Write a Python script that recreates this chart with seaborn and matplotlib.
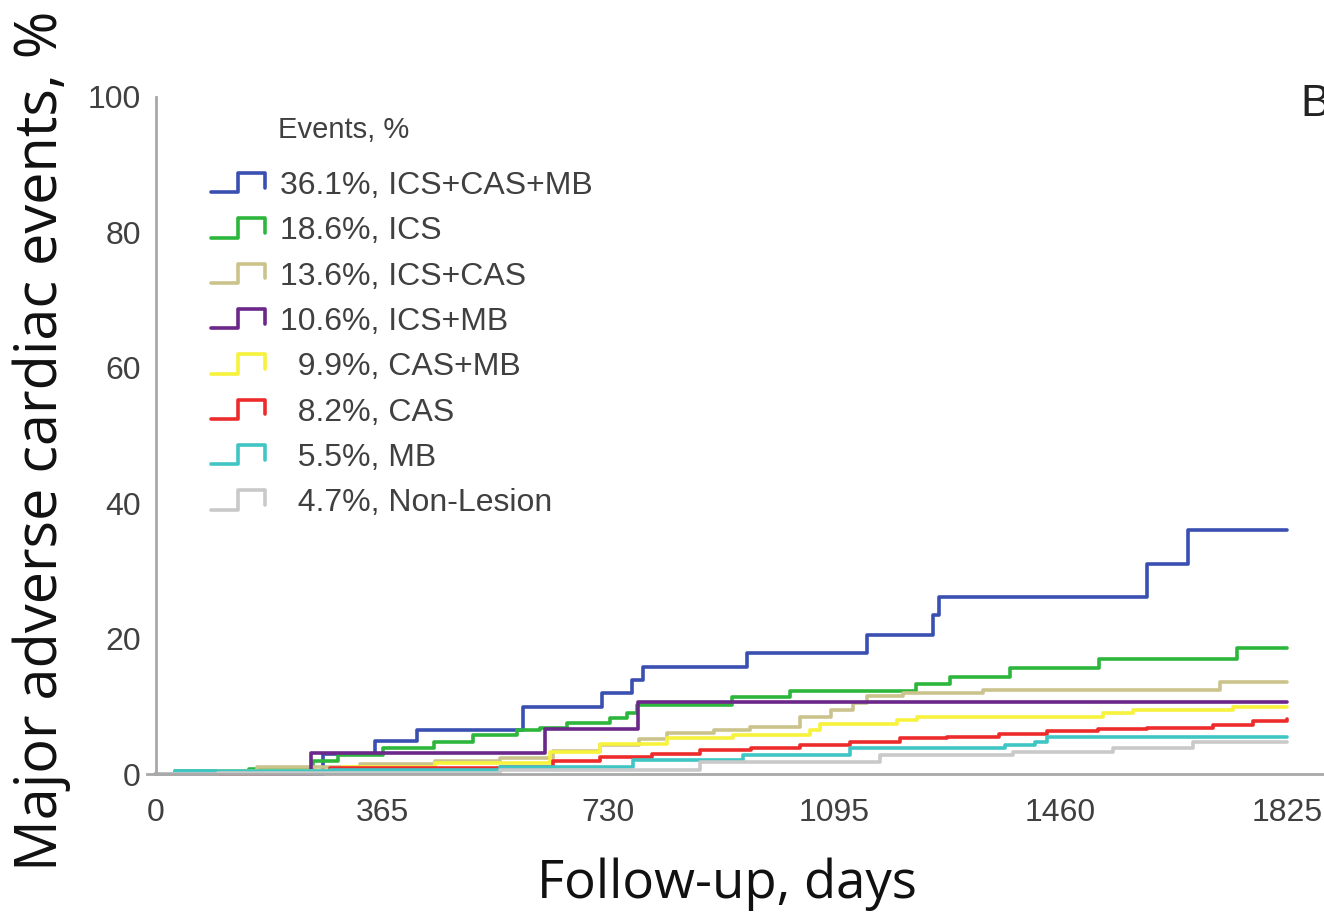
import pandas as pd
import matplotlib
matplotlib.use("Agg")
import matplotlib.pyplot as plt
import seaborn as sns
from matplotlib.lines import Line2D
from matplotlib.legend_handler import HandlerBase

# cumulative event curves (days, %)
blue_days = [0, 270, 353, 421, 592, 720, 768, 786, 953, 1147, 1254, 1264, 1599, 1665, 1825]
blue_pct = [0, 3.0, 4.9, 6.5, 9.9, 12.0, 13.9, 15.8, 17.9, 20.5, 23.5, 26.1, 31.0, 36.1, 36.1]

green_days = [0, 30, 150, 253, 293, 367, 448, 512, 582, 620, 663, 733, 760, 776, 929, 1023, 1226, 1281, 1378, 1522, 1744, 1825]
green_pct = [0, 0.4, 0.8, 2.0, 2.8, 3.8, 4.8, 5.8, 6.5, 6.8, 7.6, 8.3, 9.0, 10.2, 11.4, 12.3, 13.3, 14.4, 15.7, 17.0, 18.6, 18.6]

khaki_days = [0, 80, 163, 330, 450, 555, 640, 716, 780, 825, 900, 958, 1039, 1090, 1125, 1147, 1205, 1334, 1717, 1825]
khaki_pct = [0, 0.3, 1.0, 1.5, 2.0, 2.4, 3.4, 4.3, 5.2, 6.0, 6.5, 7.0, 8.5, 9.5, 10.5, 11.6, 12.0, 12.4, 13.6, 13.6]

purple_days = [0, 250, 628, 778, 1825]
purple_pct = [0, 3.1, 6.6, 10.7, 10.7]

yellow_days = [0, 100, 300, 450, 555, 636, 716, 825, 931, 1055, 1071, 1196, 1228, 1528, 1577, 1738, 1825]
yellow_pct = [0, 0.5, 1.0, 1.6, 1.6, 3.3, 4.5, 5.3, 5.8, 6.5, 7.4, 8.0, 8.4, 9.0, 9.4, 9.9, 9.9]

red_days = [0, 200, 281, 474, 555, 640, 716, 800, 878, 960, 1039, 1120, 1201, 1276, 1360, 1438, 1520, 1599, 1706, 1770, 1825]
red_pct = [0, 0.1, 0.9, 0.9, 1.1, 1.9, 2.5, 3.0, 3.5, 3.9, 4.3, 4.8, 5.3, 5.5, 5.9, 6.3, 6.6, 6.8, 7.3, 7.8, 8.2]

cyan_days = [0, 30, 281, 555, 770, 947, 1120, 1370, 1418, 1438, 1825]
cyan_pct = [0, 0.4, 0.6, 1.1, 2.1, 2.8, 3.8, 4.3, 4.8, 5.5, 5.5]

gray_days = [0, 100, 555, 878, 1168, 1383, 1544, 1673, 1825]
gray_pct = [0, 0.2, 0.6, 1.8, 2.8, 3.3, 3.8, 4.7, 4.7]

labels = ["36.1%, ICS+CAS+MB", "18.6%, ICS", "13.6%, ICS+CAS", "10.6%, ICS+MB",
          "  9.9%, CAS+MB", "  8.2%, CAS", "  5.5%, MB", "  4.7%, Non-Lesion"]
colors = ["#3a4fb2", "#2cb63c", "#cbc38c", "#6b2789", "#f7f23c", "#ee2b2b", "#40c5c5", "#c9c9c9"]
xticks = [0, 365, 730, 1095, 1460, 1825]
yticks = [0, 20, 40, 60, 80, 100]

series = [(blue_days, blue_pct), (green_days, green_pct), (khaki_days, khaki_pct),
          (purple_days, purple_pct), (yellow_days, yellow_pct), (red_days, red_pct),
          (cyan_days, cyan_pct), (gray_days, gray_pct)]

rows = []
for lab, (d, p) in zip(labels, series):
    for x, y in zip(d, p):
        rows.append({"days": x, "pct": y, "group": lab})
df = pd.DataFrame(rows)


class StepHandler(HandlerBase):
    def create_artists(self, legend, orig_handle, xdescent, ydescent, width, height, fontsize, trans):
        xs = [-xdescent + f * width for f in (0, 0.5, 0.5, 1, 1)]
        ys = [-ydescent + f * height for f in (0, 0, 1, 1, 0.25)]
        ln = Line2D(xs, ys, color=orig_handle.get_color(), lw=orig_handle.get_linewidth())
        ln.set_transform(trans)
        return [ln]


sns.set_style("white")
plt.rcParams['font.family'] = ['Liberation Sans', 'DejaVu Sans']

fig = plt.figure(figsize=(13.24, 9.14), dpi=100)
ax = fig.add_axes([0.1108, 0.1420, 0.8892, 0.7593])

sns.lineplot(data=df, x="days", y="pct", hue="group", palette=dict(zip(labels, colors)),
             hue_order=labels, estimator=None, drawstyle="steps-post", linewidth=2.6,
             legend=False, ax=ax)
for ln in ax.lines:
    ln.set_clip_on(False)

ax.set_xlim(-15, 1885)
ax.set_ylim(-1.5, 101)
ax.spines['left'].set_position(('data', 0))
ax.spines['bottom'].set_position(('data', 0))
ax.spines['left'].set_bounds(0, 100)
for s in ['top', 'right']:
    ax.spines[s].set_visible(False)
for s in ['left', 'bottom']:
    ax.spines[s].set_color('#a8a8a8')
    ax.spines[s].set_linewidth(2)

ax.set_xticks(xticks)
ax.set_yticks(yticks)
ax.tick_params(axis='both', direction='inout', color='#808080', width=1.5,
               labelcolor='#404040', labelsize=23)
ax.tick_params(axis='x', length=16, pad=9)
ax.tick_params(axis='y', length=12, pad=5)

ax.set_xlabel("Follow-up, days", family=['Open Sans', 'DejaVu Sans'], fontsize=38, color='#111111')
ax.xaxis.set_label_coords(727 / 1324, 1 - 884 / 914, transform=fig.transFigure)
ax.xaxis.label.set_va('center')
ax.set_ylabel("Major adverse cardiac events, %", family=['Open Sans', 'DejaVu Sans'], fontsize=41.5, color='#111111')
ax.yaxis.set_label_coords(42 / 1324, 1 - 441 / 914, transform=fig.transFigure)
ax.yaxis.label.set_va('center')

handles = [Line2D([], [], color=c, lw=2.6) for c in colors]
leg = ax.legend(handles, labels, handler_map={Line2D: StepHandler()}, frameon=False,
                loc='upper left', bbox_to_anchor=(211 / 1324, 1 - 171 / 914),
                bbox_transform=fig.transFigure, borderpad=0, borderaxespad=0,
                handlelength=1.7, handleheight=0.55, handletextpad=0.45,
                labelspacing=0.48, fontsize=23)
for t in leg.get_texts():
    t.set_color('#404040')

fig.text(278 / 1324, 1 - 130 / 914, "Events, %", fontsize=21, color='#404040', va='center', ha='left')
fig.text(1300 / 1324, 1 - 105 / 914, "B", fontsize=32, color='#222222', va='center', ha='left')

fig.savefig("out.png", dpi=100)
